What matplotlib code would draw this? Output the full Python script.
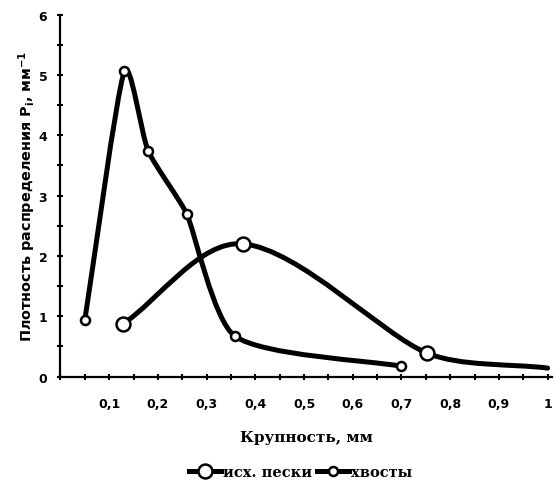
import numpy as np
import matplotlib
matplotlib.use("Agg")
import matplotlib.pyplot as plt
from matplotlib.path import Path
from matplotlib.patches import PathPatch
from matplotlib.lines import Line2D
from matplotlib.ticker import MultipleLocator, FixedLocator, FixedFormatter

# size class, mm  /  distribution density, 1/mm
sand_x = [0.128, 0.375, 0.752, 1.0]
sand_y = [0.87, 2.20, 0.39, 0.14]
tail_x = [0.05, 0.131, 0.180, 0.259, 0.358, 0.70]
tail_y = [0.94, 5.06, 3.74, 2.70, 0.67, 0.17]

x_ticks = [0.1, 0.2, 0.3, 0.4, 0.5, 0.6, 0.7, 0.8, 0.9, 1.0]
x_labels = ["0,1", "0,2", "0,3", "0,4", "0,5", "0,6", "0,7", "0,8", "0,9", "1"]

legend_names = ["исх. пески", "хвосты"]


def smooth_path(ax, xs, ys, k=0.3):
    # bezier through the points, built in screen space; control arms follow
    # the neighbour chord, each side limited relative to the other side
    pts = ax.transData.transform(np.column_stack([xs, ys]))
    n = len(pts)
    d = np.hypot(*np.diff(pts, axis=0).T)
    unit = np.zeros_like(pts)
    arm_in = np.zeros(n)
    arm_out = np.zeros(n)
    for i in range(n):
        t = pts[min(i + 1, n - 1)] - pts[max(i - 1, 0)]
        unit[i] = t / np.hypot(*t)
        d_in = d[i - 1] if i > 0 else d[0]
        d_out = d[i] if i < n - 1 else d[-1]
        arm_in[i] = k * min(d_in, 1.3 * d_out)
        arm_out[i] = k * min(d_out, 1.3 * d_in)
    verts = [pts[0]]
    codes = [Path.MOVETO]
    for i in range(n - 1):
        verts += [pts[i] + unit[i] * arm_out[i],
                  pts[i + 1] - unit[i + 1] * arm_in[i + 1],
                  pts[i + 1]]
        codes += [Path.CURVE4] * 3
    return Path(ax.transData.inverted().transform(np.array(verts)), codes)


fig = plt.figure(figsize=(5.55, 4.85), dpi=100)
ax = fig.add_axes([0.109, 0.2216, 0.8847, 0.746])
ax.set_xlim(0, 1.008)
ax.set_ylim(0, 6)

lw = 3.6
for xs, ys, k in [(sand_x, sand_y, 0.3), (tail_x, tail_y, 0.2)]:
    ax.add_patch(PathPatch(smooth_path(ax, xs, ys, k), fill=False, lw=lw,
                           edgecolor="black", capstyle="round",
                           joinstyle="round", zorder=2))

# markers on top of the curves
ax.plot(sand_x[:-1], sand_y[:-1], ls="none", marker="o", ms=10,
        mfc="white", mec="black", mew=1.8, zorder=3)
ax.plot(tail_x, tail_y, ls="none", marker="o", ms=6.5,
        mfc="white", mec="black", mew=1.8, zorder=3)

for side in ["top", "right"]:
    ax.spines[side].set_visible(False)
for side in ["left", "bottom"]:
    ax.spines[side].set_linewidth(1.6)

ax.xaxis.set_major_locator(FixedLocator(x_ticks))
ax.xaxis.set_major_formatter(FixedFormatter(x_labels))
ax.xaxis.set_minor_locator(MultipleLocator(0.05))
ax.yaxis.set_major_locator(MultipleLocator(1))
ax.yaxis.set_minor_locator(MultipleLocator(0.5))

ax.tick_params(which="both", direction="inout", length=5, width=1.5)
ax.tick_params(axis="x", which="major", pad=12)
ax.tick_params(axis="y", which="major", pad=7)

for lab in ax.get_xticklabels() + ax.get_yticklabels():
    lab.set_fontfamily("DejaVu Sans")
    lab.set_fontweight("bold")
    lab.set_fontsize(9)

ax.set_xlabel("Крупность, мм", family="DejaVu Serif", weight="bold",
              size=11, labelpad=15)
ax.set_ylabel("Плотность распределения P$_\\mathregular{i}$, мм$^{\\mathregular{-1}}$",
              family="DejaVu Sans", weight="bold", size=10.4)
ax.yaxis.set_label_coords(-0.046, 0.5)

handles = [
    Line2D([], [], color="black", lw=lw, marker="o", ms=10,
           mfc="white", mec="black", mew=1.8),
    Line2D([], [], color="black", lw=lw, marker="o", ms=6.5,
           mfc="white", mec="black", mew=1.8),
]
fig.legend(handles, legend_names, loc="center", bbox_to_anchor=(0.542, 0.025),
           ncol=2, frameon=False, handlelength=2.2, handletextpad=0.15,
           columnspacing=0.3, prop={"family": "DejaVu Serif", "weight": "bold",
                                    "size": 10.5})

fig.savefig("out.png", dpi=100)
